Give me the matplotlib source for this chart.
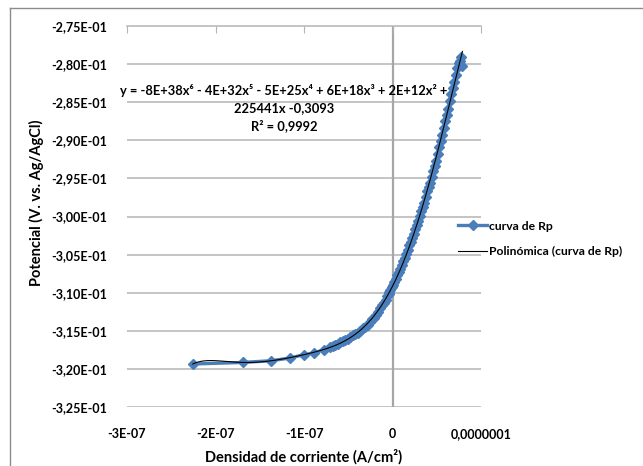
import numpy as np
import matplotlib
matplotlib.use("Agg")
import matplotlib.pyplot as plt
from matplotlib.lines import Line2D

plt.rcParams['font.family'] = ['Lato', 'DejaVu Sans']
plt.rcParams['font.weight'] = 'bold'

# current density (units of 1e-7 A/cm2) and potential (V vs Ag/AgCl) of the Rp sweep
densidad = np.array([
    -2.257, -1.691, -1.374, -1.155, -1.005, -0.891, -0.778, -0.702,
    -0.674, -0.646, -0.617, -0.589, -0.560, -0.532, -0.504, -0.476,
    -0.447, -0.419, -0.390, -0.362, -0.334, -0.306, -0.277, -0.249,
    -0.226, -0.204, -0.181, -0.159, -0.136, -0.113, -0.096, -0.079,
    -0.062, -0.045, -0.034, -0.023, -0.011, 0.000, 0.017, 0.034,
    0.051, 0.068, 0.085, 0.102, 0.119, 0.136, 0.153, 0.170,
    0.187, 0.204, 0.221, 0.238, 0.255, 0.272, 0.289, 0.306,
    0.323, 0.340, 0.357, 0.374, 0.391, 0.408, 0.425, 0.442,
    0.459, 0.476, 0.493, 0.510, 0.527, 0.544, 0.561, 0.578,
    0.595, 0.612, 0.629, 0.646, 0.663, 0.680, 0.696, 0.713,
    0.730, 0.747, 0.758, 0.770, 0.790]) * 1e-7
potencial = np.array([
    -0.31936, -0.31915, -0.31893, -0.31857, -0.31814, -0.31792, -0.31749, -0.31716,
    -0.31695, -0.31683, -0.31672, -0.31650, -0.31629, -0.31618, -0.31603, -0.31578,
    -0.31553, -0.31539, -0.31525, -0.31500, -0.31466, -0.31447, -0.31420, -0.31381,
    -0.31350, -0.31329, -0.31297, -0.31250, -0.31198, -0.31159, -0.31132, -0.31093,
    -0.31047, -0.31014, -0.30995, -0.30962, -0.30922, -0.30896, -0.30865, -0.30818,
    -0.30765, -0.30726, -0.30688, -0.30634, -0.30580, -0.30542, -0.30498, -0.30437,
    -0.30375, -0.30332, -0.30288, -0.30228, -0.30160, -0.30110, -0.30059, -0.29992,
    -0.29925, -0.29874, -0.29817, -0.29742, -0.29668, -0.29611, -0.29554, -0.29480,
    -0.29400, -0.29336, -0.29266, -0.29179, -0.29085, -0.29008, -0.28930, -0.28838,
    -0.28744, -0.28667, -0.28584, -0.28484, -0.28390, -0.28313, -0.28236, -0.28143,
    -0.28056, -0.27985, -0.27953, -0.27910, -0.28020])

x_ticks = [-3e-7, -2e-7, -1e-7, 0, 1e-7]
x_labels = ["-3E-07", "-2E-07", "-1E-07", "0", "0,0000001"]
y_ticks = np.arange(-0.325, -0.2749, 0.005)
y_labels = ["-%s" % ("%.2fE-01" % (abs(v) * 10)).replace(".", ",") for v in y_ticks]

ecuacion = ("y = -8E+38x\u2076 - 4E+32x\u2075 - 5E+25x\u2074 + 6E+18x\u00b3 + 2E+12x\u00b2 +\n"
            "225441x -0,3093\n"
            "R\u00b2 = 0,9992")

# 6th order polynomial trend, fitted in units of 1e-7 to keep it well conditioned
coef = np.polyfit(densidad / 1e-7, potencial, 6)
xs = np.linspace(densidad.min(), densidad.max(), 400)
ys = np.polyval(coef, xs / 1e-7)

fig = plt.figure(figsize=(6.43, 4.66), dpi=100)
ax = fig.add_axes([127 / 643, 1 - 407 / 466, 354 / 643, 381 / 466])

grid_col = "#b4b4b4"
for v in y_ticks[:-1]:
    ax.axhline(v, color=grid_col, lw=1.1, zorder=0)
ax.axvline(0, color="#a6a6a6", lw=1.6, zorder=0)

ax.plot(densidad, potencial, color="#4a7ebb", lw=2.4, marker="D", ms=5,
        mec="#4a7ebb", label="curva de Rp", zorder=2)
ax.plot(xs, ys, color="black", lw=0.8, label="Polinómica (curva de Rp)", zorder=3)

ax.set_xlim(-3e-7, 1e-7)
ax.set_ylim(-0.325, -0.275)
ax.set_xticks(x_ticks)
ax.set_xticklabels(x_labels)
ax.set_yticks(y_ticks)
ax.set_yticklabels(y_labels)

for s in ["left", "right", "bottom"]:
    ax.spines[s].set_visible(False)
ax.spines["top"].set_color(grid_col)
ax.spines["top"].set_linewidth(1.1)
ax.tick_params(axis="x", top=True, bottom=False, labeltop=False, labelbottom=True,
               direction="in", length=5, color=grid_col, pad=15, labelsize=9)
ax.tick_params(axis="y", left=False, pad=11, labelsize=9)

fig.text(304 / 643, 1 - 457 / 466, "Densidad de corriente (A/cm\u00b2)",
         ha="center", va="center", fontsize=10.5)
fig.text(36 / 643, 1 - 203 / 466, "Potencial (V. vs. Ag/AgCl)",
         ha="center", va="center", rotation=90, fontsize=10.5)
fig.text(284 / 643, 1 - 108 / 466, ecuacion, ha="center", va="center",
         fontsize=9.3, linespacing=1.5)

ax.legend(loc="center left", bbox_to_anchor=(458 / 643, 1 - 239 / 466),
          bbox_transform=fig.transFigure, frameon=False, fontsize=8.7,
          handlelength=2.4, handletextpad=0.2, labelspacing=1.2, borderpad=0,
          borderaxespad=0)

# outer chart border
fig.add_artist(Line2D([9.5 / 643, 9.5 / 643], [0, 1 - 8 / 466], color="#8c8c8c", lw=1))
fig.add_artist(Line2D([9.5 / 643, 1], [1 - 8 / 466, 1 - 8 / 466], color="#8c8c8c", lw=1))

fig.savefig("out.png", dpi=100)
